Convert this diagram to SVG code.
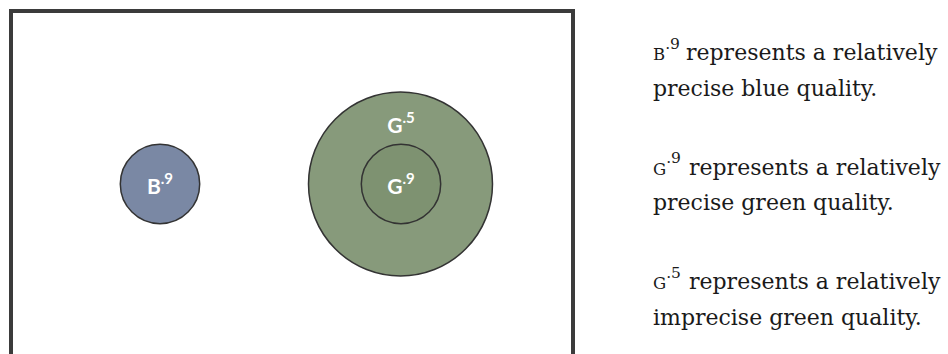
<svg xmlns="http://www.w3.org/2000/svg" width="948" height="354" viewBox="0 0 948 354">
  <style>
    .frame { fill: none; stroke: #3b3b3b; stroke-width: 4; }
    .node { stroke: #333333; stroke-width: 1.5; }
    .blue { fill: #7a88a4; }
    .outer { fill: #879a7b; }
    .inner { fill: #7e9271; }
    .lbl { font-family: Lato, "Open Sans", sans-serif; font-weight: 700; fill: #ffffff; text-anchor: middle; font-size: 21px; }
    .sup { font-size: 15px; }
    .desc { font-family: "DejaVu Serif", "Liberation Serif", serif; font-size: 22px; fill: #1a1a1a; }
    .sc { font-size: 16.5px; }
    .dsup { font-size: 15.5px; }
  </style>
  <rect x="0" y="0" width="948" height="354" fill="#ffffff"/>
  <rect class="frame" x="11" y="11" width="562" height="380"/>

  <g id="node-b9">
    <circle class="node blue" cx="160" cy="184" r="39.7"/>
    <text class="lbl" x="160" y="194">B<tspan class="sup" dy="-10">.9</tspan></text>
  </g>
  <g id="node-g5">
    <circle class="node outer" cx="400.5" cy="184" r="92"/>
    <text class="lbl" x="401" y="132.5">G<tspan class="sup" dy="-10">.5</tspan></text>
  </g>
  <g id="node-g9">
    <circle class="node inner" cx="401" cy="184" r="39.7"/>
    <text class="lbl" x="401" y="193.7">G<tspan class="sup" dy="-10">.9</tspan></text>
  </g>
  <g id="connectors"></g>

  <g id="legend">
    <text class="desc" x="653" y="60"><tspan class="sc">B</tspan><tspan class="dsup" dy="-11.5">.9</tspan><tspan x="686" dy="11.5">represents a relatively</tspan></text>
    <text class="desc" x="653" y="95.5">precise blue quality.</text>
    <text class="desc" x="653" y="174.5"><tspan class="sc">G</tspan><tspan class="dsup" dy="-11.5">.9</tspan><tspan x="689" dy="11.5">represents a relatively</tspan></text>
    <text class="desc" x="653" y="210">precise green quality.</text>
    <text class="desc" x="653" y="289"><tspan class="sc">G</tspan><tspan class="dsup" dy="-11.5">.5</tspan><tspan x="689" dy="11.5">represents a relatively</tspan></text>
    <text class="desc" x="653" y="324.5">imprecise green quality.</text>
  </g>
</svg>
